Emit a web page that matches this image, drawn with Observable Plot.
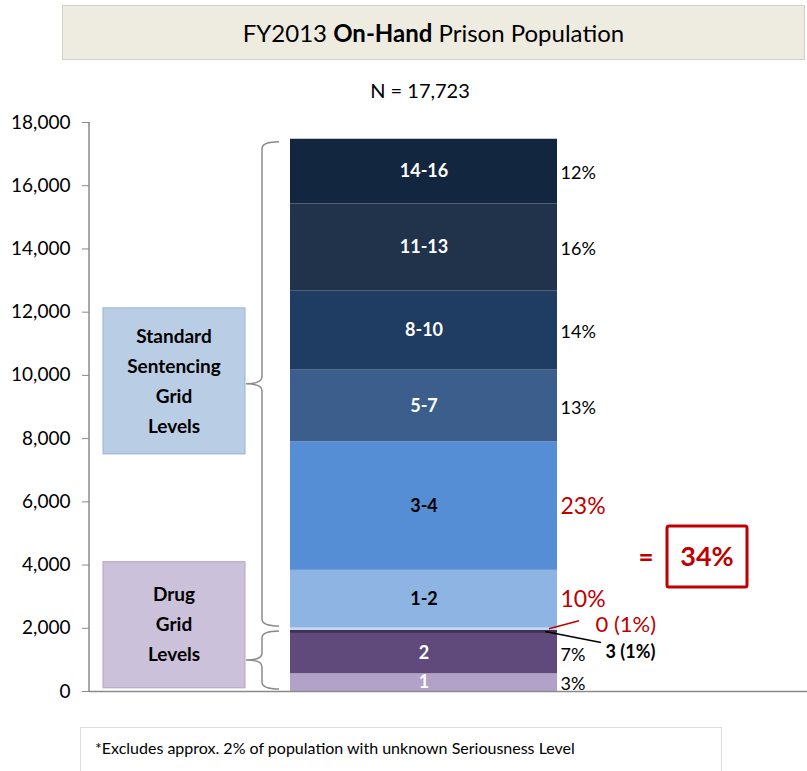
<!DOCTYPE html>
<html><head><meta charset="utf-8">
<script src="https://cdn.jsdelivr.net/npm/d3@7"></script>
<script src="https://cdn.jsdelivr.net/npm/@observablehq/plot@0.6"></script>
<style>
html,body{margin:0;padding:0;background:#fff;}
#wrap{position:relative;width:807px;height:771px;overflow:hidden;font-family:Lato,"Open Sans",sans-serif;color:#000;}
#wrap svg{position:absolute;left:0;top:0;}
#title{position:absolute;left:62px;top:5px;width:743px;height:55px;box-sizing:border-box;background:#eeece1;border:1px solid #d3d1c7;display:flex;align-items:center;justify-content:center;font-size:24px;z-index:2;}
#n{position:absolute;left:320px;top:78px;width:200px;text-align:center;font-size:20px;z-index:2;}
#foot{position:absolute;left:80px;top:727px;width:642px;height:60px;box-sizing:border-box;border:1px solid #dcdcdc;background:#fff;padding-left:14px;line-height:40px;font-size:16px;z-index:2;}
</style></head>
<body>
<div id="wrap">
  <div id="title"><span>FY2013&nbsp;<b>On-Hand</b>&nbsp;Prison Population</span></div>
  <div id="n">N = 17,723</div>
  <div id="foot">*Excludes approx. 2% of population with unknown Seriousness Level</div>
</div>
<script>
// ---- data (bottom to top of the stacked bar) ----
const levels = ["1", "2", "3", "0", "1-2", "3-4", "5-7", "8-10", "11-13", "14-16"];
const grids = ["Drug", "Drug", "Drug", "Standard", "Standard", "Standard", "Standard", "Standard", "Standard", "Standard"];
const counts = [560, 1276, 95, 75, 1827, 4062, 2270, 2511, 2745, 2049];
const shares = ["3%", "7%", "3 (1%)", "0 (1%)", "10%", "23%", "13%", "14%", "16%", "12%"];
const insideLabels = ["1", "2", "", "", "1-2", "3-4", "5-7", "8-10", "11-13", "14-16"];
const segColors = ["#b3a2c7", "#604a7b", "#3f3151", "#c6d9f1", "#8eb4e3", "#558ed5", "#3b5e8c", "#1f3d63", "#21324b", "#13263f"];
const insideColors = ["#fff", "#fff", "#fff", "#fff", "#000", "#000", "#fff", "#fff", "#fff", "#fff"];
const highlighted = ["3-4", "1-2", "0"];
const highlightTotal = "34%";
const yTicks = [0, 2000, 4000, 6000, 8000, 10000, 12000, 14000, 16000, 18000];
const barName = "FY2013";

const cum = d3.cumsum(counts);
const rows = levels.map((l, i) => ({
  level: l, grid: grids[i], count: counts[i], share: shares[i], inside: insideLabels[i],
  insideColor: insideColors[i], base: cum[i] - counts[i], top: cum[i], mid: cum[i] - counts[i] / 2,
  bar: barName
}));

const FONT = "Lato, 'Open Sans', sans-serif";
const RED = "#c00000";
const plainShare = d => !highlighted.includes(d.level) && d.level !== "3";

const plot = Plot.plot({
  width: 807, height: 771,
  marginTop: 122, marginBottom: 80, marginLeft: 89, marginRight: 0,
  style: {fontFamily: FONT, fontSize: "19px", color: "#000", background: "transparent", overflow: "visible"},
  x: {domain: [barName], range: [290, 557], padding: 0, axis: null},
  y: {domain: [0, 18000], ticks: yTicks, tickFormat: d3.format(","), tickSize: 7, tickPadding: 12, label: null},
  color: {domain: levels, range: segColors},
  marks: [
    Plot.barY(rows, {x: "bar", y1: "base", y2: "top", fill: "level"}),
    Plot.text(rows, {x: "bar", y: "mid", text: "inside", fill: "insideColor", fontWeight: "bold", fontSize: 18}),
    Plot.text(rows, {filter: plainShare, x: "bar", y: "mid", text: "share", textAnchor: "start", dx: 136.5, dy: 2, fontSize: 18, fill: "#000"}),
    Plot.text(rows, {filter: d => d.level === "3-4" || d.level === "1-2", x: "bar", y: "mid", text: "share", textAnchor: "start", dx: 136.5, fontSize: 23, fill: RED}),
    Plot.text(rows, {filter: d => d.level === "0", x: "bar", y: "mid", text: "share", textAnchor: "start", dx: 171.5, dy: -4, fontSize: 22, fill: RED}),
    Plot.text(rows, {filter: d => d.level === "3", x: "bar", y: "mid", text: "share", textAnchor: "start", dx: 181.5, dy: 20.5, fontSize: 18, fontWeight: "bold", fill: "#000"}),
    Plot.ruleY([0], {stroke: "#8a8a8a", strokeWidth: 1.5})
  ]
});

document.getElementById("wrap").appendChild(plot);

// ---- annotations drawn with the plot's own scales ----
const ys = plot.scale("y");
const Y = v => ys.apply(v);
const svg = d3.select(plot);
svg.selectAll('[aria-label^="y-axis"] line, [aria-label^="y-axis"] path').attr("stroke", "#8a8a8a");
const g = svg.append("g");

// y axis line
g.append("line").attr("x1", 89).attr("x2", 89).attr("y1", Y(0)).attr("y2", Y(18000))
  .attr("stroke", "#8a8a8a").attr("stroke-width", 1.5);

const total = d3.sum(counts);
const drugTop = d3.sum(counts.filter((c, i) => grids[i] === "Drug"));

function brace(y1, y2) {
  const xl = 262, xe = 279, xt = 246, r = 7, m = (y1 + y2) / 2;
  return `M${xe},${y1} Q${xl},${y1} ${xl},${y1 + r} L${xl},${m - r} Q${xl},${m} ${xt},${m} Q${xl},${m} ${xl},${m + r} L${xl},${y2 - r} Q${xl},${y2} ${xe},${y2}`;
}
g.append("path").attr("d", brace(Y(total) + 3, Y(drugTop) - 4)).attr("fill", "none").attr("stroke", "#8a8a8a").attr("stroke-width", 1.5);
g.append("path").attr("d", brace(Y(drugTop) + 1, Y(0) - 2)).attr("fill", "none").attr("stroke", "#8a8a8a").attr("stroke-width", 1.5);

function labelBox(top, bottom, fill, stroke, lines) {
  const y1 = Y(top), y2 = Y(bottom);
  g.append("rect").attr("x", 103).attr("y", y1).attr("width", 142).attr("height", y2 - y1)
    .attr("fill", fill).attr("stroke", stroke).attr("stroke-width", 1);
  const c = (y1 + y2) / 2, lh = 30;
  lines.forEach((t, i) => {
    g.append("text").attr("x", 174).attr("y", c + (i - (lines.length - 1) / 2) * lh)
      .attr("dy", "0.35em").attr("text-anchor", "middle").attr("font-family", FONT)
      .attr("font-size", 19).attr("font-weight", "bold").attr("fill", "#000").text(t);
  });
}
labelBox(12120, 7500, "#b9cde5", "#95b3d7", ["Standard", "Sentencing", "Grid", "Levels"]);
labelBox(4090, 100, "#ccc1da", "#b3a2c7", ["Drug", "Grid", "Levels"]);

// leader lines for thin segments
const r0 = rows.find(d => d.level === "0"), r3 = rows.find(d => d.level === "3");
g.append("line").attr("x1", 549).attr("y1", Y(r0.mid)).attr("x2", 579).attr("y2", Y(r0.mid) - 8).attr("stroke", RED).attr("stroke-width", 1.5);
g.append("line").attr("x1", 545).attr("y1", Y(r3.mid)).attr("x2", 601).attr("y2", Y(r3.mid) + 11).attr("stroke", "#000").attr("stroke-width", 1.5);

// "= 34%" callout
g.append("text").attr("x", 646).attr("y", 557).attr("dy", "0.35em").attr("text-anchor", "middle")
  .attr("font-family", FONT).attr("font-size", 26).attr("font-weight", "bold").attr("fill", RED).text("=");
g.append("rect").attr("x", 667).attr("y", 526).attr("width", 80).attr("height", 61).attr("rx", 2)
  .attr("fill", "#fff").attr("stroke", RED).attr("stroke-width", 3);
g.append("text").attr("x", 707).attr("y", 557).attr("dy", "0.35em").attr("text-anchor", "middle")
  .attr("font-family", FONT).attr("font-size", 27).attr("font-weight", "bold").attr("fill", RED).text(highlightTotal);
</script>
</body></html>
